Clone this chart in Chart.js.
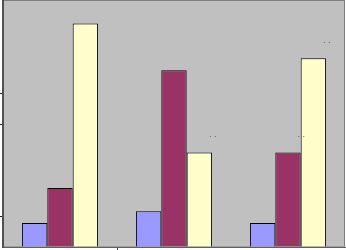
<!DOCTYPE html>
<html>
<head>
<meta charset="utf-8">
<script src="https://cdn.jsdelivr.net/npm/chart.js@4/dist/chart.umd.min.js"></script>
<style>
  html, body { margin: 0; padding: 0; background: #fff; }
  #wrap { width: 346px; height: 250px; }
</style>
</head>
<body>
<div id="wrap"><canvas id="myChart"></canvas></div>
<script>
// values (axis runs 0..8)
let categories = ["1", "2", "3"];
let seriesA = [0.78, 1.16, 0.78];
let seriesB = [1.92, 5.75, 3.07];
let seriesC = [7.27, 3.07, 6.14];
let yTicksShown = [1, 4, 5];
// bars that carry a tiny (unreadable) label above them: [dataset, index]
let labelled = [[2, 1], [1, 2], [2, 2]];

const plotBg = {
    id: 'plotBg',
    beforeDraw(chart) {
        const { ctx, chartArea: a } = chart;
        ctx.save();
        ctx.fillStyle = '#C0C0C0';
        ctx.fillRect(a.left, a.top, a.right - a.left, a.bottom - a.top);
        ctx.strokeStyle = '#808080';
        ctx.lineWidth = 1;
        ctx.strokeRect(a.left + 0.5, a.top - 0.5, a.right - a.left - 1, a.bottom - a.top + 0.5);
        ctx.restore();
    }
};

const tinyLabels = {
    id: 'tinyLabels',
    afterDatasetsDraw(chart) {
        const ctx = chart.ctx;
        ctx.save();
        ctx.fillStyle = '#555';
        ctx.font = '8px "DejaVu Sans"';
        ctx.textBaseline = 'alphabetic';
        labelled.forEach(([d, i]) => {
            const bar = chart.getDatasetMeta(d).data[i];
            ctx.fillText('. .', bar.x + 9.5, bar.y - 15.5);
        });
        ctx.restore();
    }
};

new Chart("myChart", {
    type: "bar",
    data: {
        labels: categories,
        datasets: [
            { data: seriesA, backgroundColor: '#9999FF', borderColor: '#000', borderWidth: 1 },
            { data: seriesB, backgroundColor: '#993366', borderColor: '#000', borderWidth: 1 },
            { data: seriesC, backgroundColor: '#FFFFCC', borderColor: '#000', borderWidth: 1 }
        ]
    },
    options: {
        responsive: true,
        maintainAspectRatio: false,
        animation: false,
        layout: { padding: { top: 1, right: 1, left: 0, bottom: 0 } },
        plugins: { legend: { display: false }, tooltip: { enabled: false } },
        datasets: { bar: { categoryPercentage: 0.668, barPercentage: 1 } },
        scales: {
            x: {
                ticks: { display: false },
                grid: {
                    drawOnChartArea: false,
                    tickLength: 3,
                    tickColor: c => c.index === 1 ? '#404040' : 'rgba(0,0,0,0)'
                },
                border: { color: '#606060', width: 1 }
            },
            y: {
                min: 0,
                max: 8,
                ticks: { display: false, stepSize: 1 },
                grid: {
                    drawOnChartArea: false,
                    tickLength: 3,
                    tickColor: c => (c.tick && yTicksShown.includes(c.tick.value)) ? '#202020' : 'rgba(0,0,0,0)'
                },
                border: { color: '#505050', width: 2 }
            }
        }
    },
    plugins: [plotBg, tinyLabels]
});
</script>
</body>
</html>
